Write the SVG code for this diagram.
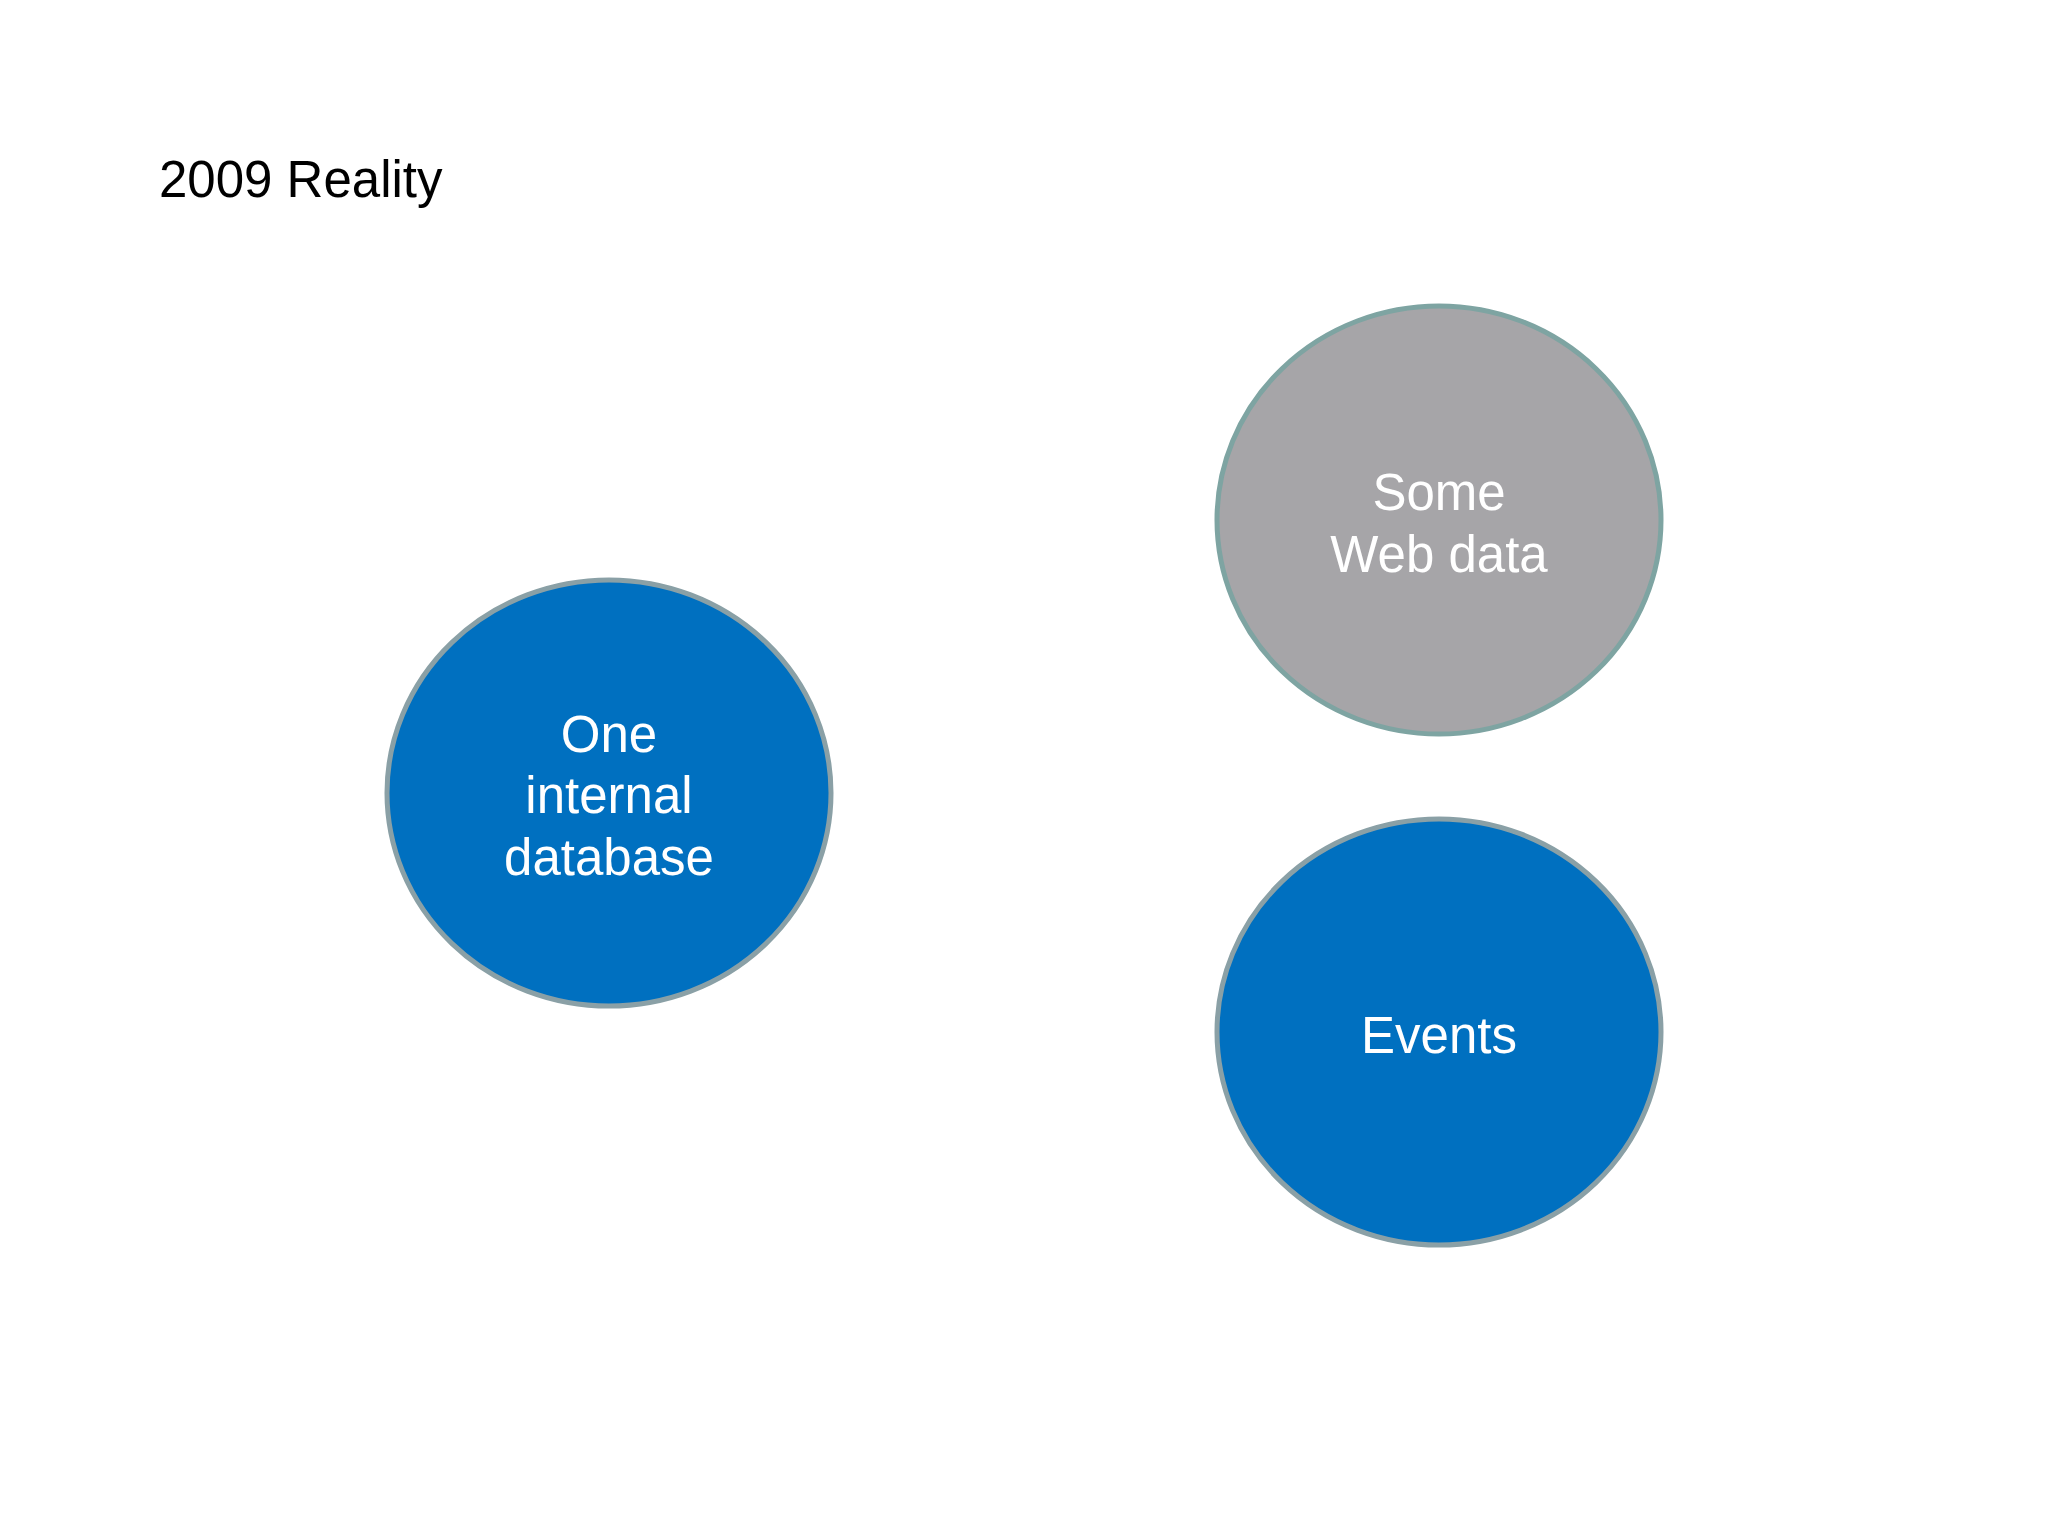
<svg xmlns="http://www.w3.org/2000/svg" width="2048" height="1536" viewBox="0 0 2048 1536">
<style>
.lbl{font-family:"Liberation Sans",Arial,sans-serif;font-size:51px;fill:#ffffff;text-anchor:middle}
.title{font-family:"Liberation Sans",Arial,sans-serif;font-size:51px;fill:#000000}
.blue{fill:#0070c0;stroke:#8aa0a6;stroke-width:5}
.grey{fill:#a6a5a8;stroke:#7ea4a2;stroke-width:5}
</style>
<rect width="2048" height="1536" fill="#ffffff"/>
<text class="title" x="159" y="197">2009 Reality</text>
<g id="node-internal-db">
<ellipse class="blue" cx="609" cy="793" rx="222" ry="213"/>
<text class="lbl" x="609" y="752">One</text>
<text class="lbl" x="609" y="813">internal</text>
<text class="lbl" x="609" y="875">database</text>
</g>
<g id="node-web-data">
<ellipse class="grey" cx="1439" cy="520" rx="222" ry="214"/>
<text class="lbl" x="1439" y="510">Some</text>
<text class="lbl" x="1439" y="572">Web data</text>
</g>
<g id="node-events">
<ellipse class="blue" cx="1439" cy="1032" rx="222" ry="213"/>
<text class="lbl" x="1439" y="1053">Events</text>
</g>
<g id="connectors"></g>
</svg>
